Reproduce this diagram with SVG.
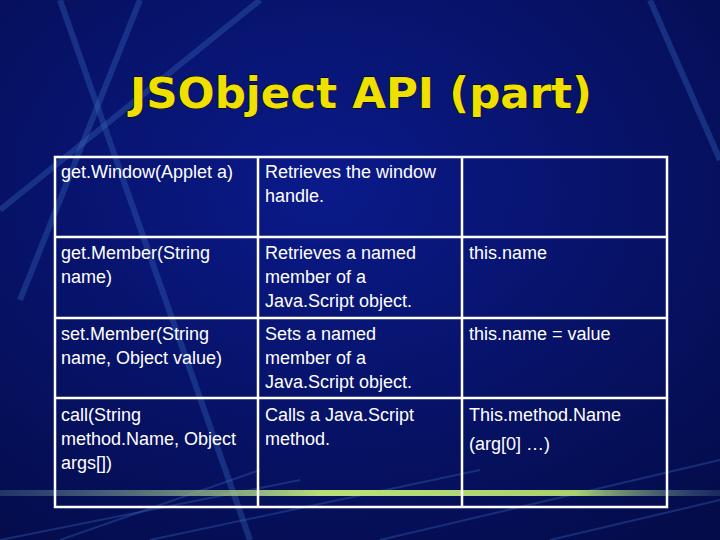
<svg xmlns="http://www.w3.org/2000/svg" width="720" height="540" viewBox="0 0 720 540">
<defs>
<radialGradient id="bg" cx="0.45" cy="0.35" r="0.8">
<stop offset="0" stop-color="#0a1a8a"/><stop offset="1" stop-color="#040c4a"/>
</radialGradient>
<linearGradient id="gl" x1="0" x2="1">
<stop offset="0" stop-color="#6a8aa0" stop-opacity="0.3"/><stop offset="0.45" stop-color="#b8e07a"/><stop offset="0.8" stop-color="#a8d070"/><stop offset="1" stop-color="#4a6a90" stop-opacity="0.3"/>
</linearGradient>
<style>
.t{font-family:"Liberation Sans",Arial,sans-serif;font-size:18px;fill:#fff}
.g{stroke:#fff;stroke-width:2.5;fill:none}
.d{stroke:#3a6ac0;stroke-opacity:0.35;fill:none}
</style>
</defs>
<rect width="720" height="540" fill="url(#bg)"/>
<g class="d" stroke-width="6">
<path d="M60 0 L250 540"/><path d="M140 0 L20 300"/><path d="M650 0 L720 160"/><path d="M0 210 L260 0"/>
</g>
<g class="d" stroke-width="2">
<path d="M0 540 L300 480"/><path d="M150 540 L480 470"/><path d="M380 540 L720 460"/><path d="M550 540 L720 500"/><path d="M60 540 L260 470"/>
</g>
<rect x="0" y="490" width="720" height="6" fill="url(#gl)"/>
<text x="130" y="108" textLength="462" lengthAdjust="spacingAndGlyphs" font-family="'DejaVu Sans',Arial,sans-serif" font-weight="900" font-size="42" fill="#f0e000" stroke="#000" stroke-width="1" paint-order="stroke">JSObject API (part)</text>
<g id="table">
<rect class="g" x="55" y="157" width="612" height="350"/>
<path class="g" d="M258 157 V507 M462 157 V507 M55 237 H667 M55 318 H667 M55 398 H667"/>
</g>
<g id="r1" class="t"><text x="61" y="178">get.Window(Applet a)</text><text x="265" y="178">Retrieves the window</text><text x="265" y="202">handle.</text></g>
<g id="r2" class="t"><text x="61" y="259">get.Member(String</text><text x="61" y="283">name)</text><text x="265" y="259">Retrieves a named</text><text x="265" y="283">member of a</text><text x="265" y="307">Java.Script object.</text><text x="469" y="259">this.name</text></g>
<g id="r3" class="t"><text x="61" y="340">set.Member(String</text><text x="61" y="364">name, Object value)</text><text x="265" y="340">Sets a named</text><text x="265" y="364">member of a</text><text x="265" y="388">Java.Script object.</text><text x="469" y="340">this.name = value</text></g>
<g id="r4" class="t"><text x="61" y="421">call(String</text><text x="61" y="445">method.Name, Object</text><text x="61" y="469">args[])</text><text x="265" y="421">Calls a Java.Script</text><text x="265" y="445">method.</text><text x="469" y="421">This.method.Name</text><text x="469" y="450">(arg[0] …)</text></g>
</svg>
